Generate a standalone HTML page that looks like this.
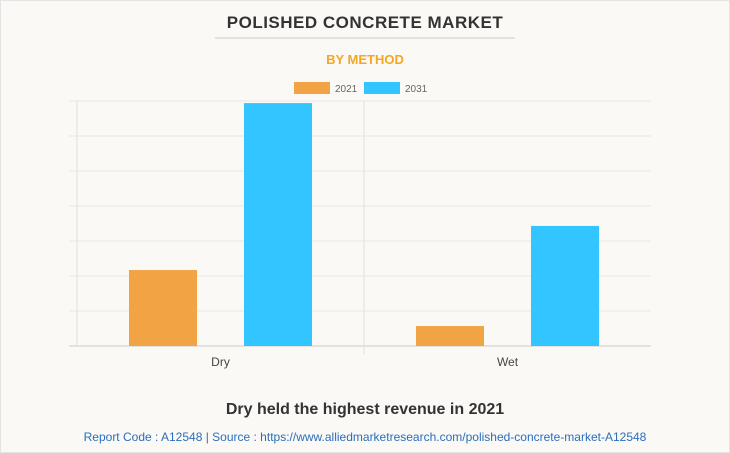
<!DOCTYPE html>
<html><head><meta charset="utf-8"><style>
body{margin:0;background:#fff;}
#wrap{position:relative;width:728px;height:451px;border:1px solid #e4e4e4;background:#faf9f5;font-family:"Liberation Sans",Arial,sans-serif;overflow:hidden;}
</style></head><body>
<div id="wrap">
<svg id="chart" width="728" height="451">
<text x="364" y="27" text-anchor="middle" font-size="17" font-weight="bold" fill="#333" letter-spacing="0.5">POLISHED CONCRETE MARKET</text>
<line x1="214" y1="37" x2="514" y2="37" stroke="#ccc"/>
<text x="364" y="63" text-anchor="middle" font-size="13" font-weight="bold" fill="#f5a623">BY METHOD</text>
<g>
<rect x="293" y="81" width="36" height="12" fill="#f2a444"/>
<text x="334" y="91" font-size="10" fill="#666">2021</text>
<rect x="363" y="81" width="36" height="12" fill="#33c5ff"/>
<text x="404" y="91" font-size="10" fill="#666">2031</text>
</g>
<g id="grid"></g><g id="bars"></g>
<text x="364" y="413" text-anchor="middle" font-size="16" font-weight="bold" fill="#333">Dry held the highest revenue in 2021</text>
<text x="364" y="440" text-anchor="middle" font-size="12" fill="#2a6ebb">Report Code : A12548  |  Source : https://www.alliedmarketresearch.com/polished-concrete-market-A12548</text>
</svg>
</div>
<script>
const categories=["Dry","Wet"];
const series2021=[2.17,0.57];
const series2031=[6.94,3.43];
const seriesNames=["2021","2031"];
const yMax=7;
const NS="http://www.w3.org/2000/svg";
const plotL=76,plotR=650,plotT=100,plotB=345;
function y(v){return plotB-(v/yMax)*(plotB-plotT);}
const bandW=(plotR-plotL)/categories.length;
function bandX(i){return plotL+i*bandW;}
function mk(tag,attrs,parent){const e=document.createElementNS(NS,tag);for(const k in attrs)e.setAttribute(k,attrs[k]);parent.appendChild(e);return e;}
const grid=document.getElementById('grid');
for(let t=0;t<=yMax;t++){
 const l=mk('line',{x1:68,x2:plotR,y1:y(t),y2:y(t),stroke:t===0?'#ccc':'#e6e6e6'},grid);
 
 
}
const ax=mk('line',{x1:plotL,x2:plotL,y1:plotT,y2:plotB,stroke:'#e0e0e0'},grid);


for(let i=1;i<categories.length;i++){
 const d=mk('line',{x1:bandX(i),x2:bandX(i),y1:plotT,y2:plotB+8,stroke:'#e0e0e0'},grid);
 
 
}
const bars=document.getElementById('bars');
const colors=["#f2a444","#33c5ff"];
const all=[series2021,series2031];
categories.forEach((c,i)=>{
 const bx=bandX(i);
 all.forEach((s,j)=>{
  const x=bx+52+j*115;
  const r=mk('rect',{x:x,y:y(s[i]),width:68,height:plotB-y(s[i]),fill:colors[j]},bars);
  
  
 });
 const t=mk('text',{x:bx+bandW/2,y:365,'text-anchor':'middle','font-size':12,fill:'#444'},bars);
 t.textContent=c;
 
 
});
</script>
</body></html>
